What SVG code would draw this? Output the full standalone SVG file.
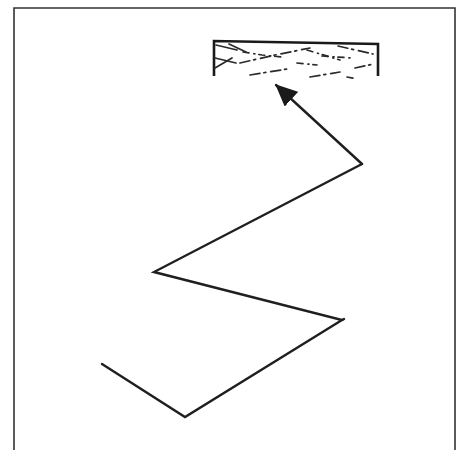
<svg xmlns="http://www.w3.org/2000/svg" width="465" height="450" viewBox="0 0 465 450">
  <style>
    .frame { fill: none; stroke: #333; stroke-width: 1.6; }
    .box { fill: none; stroke: #1a1a1a; stroke-width: 2.6; stroke-linejoin: miter; }
    .hatch { fill: none; stroke: #2a2a2a; stroke-width: 1.7; stroke-linecap: round; }
    .d1 { stroke-dasharray: 10 4 2 5; }
    .d2 { stroke-dasharray: 6 5 1 4; }
    .route { fill: none; stroke: #1f1f1f; stroke-width: 2.4; stroke-linejoin: miter; stroke-linecap: round; }
  </style>
  <defs>
    <marker id="arrow" viewBox="0 0 22 20" refX="21" refY="10" markerWidth="22" markerHeight="20" markerUnits="userSpaceOnUse" orient="auto">
      <path d="M0,0 L22,10 L0,20 Z" fill="#1a1a1a"/>
    </marker>
  </defs>
  <rect width="465" height="450" fill="#ffffff"/>
  <path class="frame" d="M14,450 V8 H455 V450"/>
  <g id="net">
    <path class="box" d="M214,76 V41 L378,44 V76"/>
    <g class="hatch">
      <path d="M216,45 L237,50"/>
      <path class="d2" d="M243,52 L262,55 L282,57"/>
      <path class="d1" d="M240,63 L275,55 L310,48"/>
      <path class="d2" d="M307,50 L340,60"/>
      <path class="d1" d="M338,46 L373,54"/>
      <path d="M215,58 L236,63"/>
      <path d="M215,68 L232,58"/>
      <path d="M229,44 L246,52"/>
      <path class="d1" d="M250,75 L287,69"/>
      <path class="d2" d="M297,63 L317,65"/>
      <path class="d1" d="M310,77 L340,72"/>
      <path class="d2" d="M347,77 L357,79"/>
      <path class="d1" d="M355,68 L374,64"/>
      <path class="d2" d="M322,56 L352,58"/>
    </g>
  </g>
  <g id="connectors">
    <path class="route" d="M102,364 L185,417 L342,320 L154,272 L362,164"/>
    <path class="route" d="M342,320 L344,319"/>
    <path class="route" d="M362,164 L276,85" marker-end="url(#arrow)"/>
  </g>
</svg>
